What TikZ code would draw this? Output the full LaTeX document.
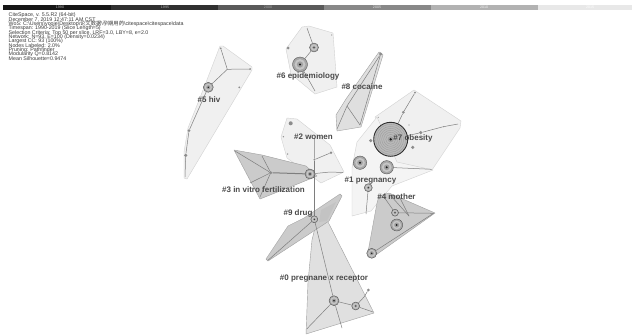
\documentclass[tikz,border=0pt]{standalone}
\usepackage{fontspec}
\setmainfont{Liberation Sans}
\newfontfamily\cjk{Noto Sans CJK SC}
\pgfdeclarelayer{bglayer}
\pgfdeclarelayer{hulllayer}
\pgfdeclarelayer{edgelayer}
\pgfsetlayers{bglayer,hulllayer,edgelayer,main}
\definecolor{hl}{HTML}{F0F0F0}
\definecolor{hld}{HTML}{D2D2D2}
\definecolor{hm}{HTML}{CBCBCB}
\definecolor{hmd}{HTML}{A0A0A0}
\definecolor{eg}{HTML}{7E7E7E}
\definecolor{lbl}{HTML}{4A4A4A}
\definecolor{txt}{HTML}{3A3A3A}
\definecolor{bA}{HTML}{161616}
\definecolor{bB}{HTML}{303030}
\definecolor{bC}{HTML}{5A5A5A}
\definecolor{bD}{HTML}{888888}
\definecolor{bE}{HTML}{B2B2B2}
\definecolor{bF}{HTML}{E8E8E8}
\newcommand\rnode[4]{%
  \node[cnode, minimum size={2*#4pt}] (#1) at (#2,#3) {};
  \fill[gray!45] (#1.center) circle ({0.72*#4pt});
  \fill[gray!75] (#1.center) circle ({0.42*#4pt});
  \fill[gray!20!black] (#1.center) circle ({0.16*#4pt});
}
\begin{document}
\begin{tikzpicture}[x=1pt,y=-1pt,
  hullL/.style={fill=hl, draw=hld, line width=0.4pt, line join=round},
  hullM/.style={fill=hm, draw=hmd, line width=0.4pt, line join=round},
  edge/.style={draw=eg, line width=0.5pt},
  sdot/.style={circle, inner sep=0pt, fill=gray!90, minimum size=#1},
  sdot/.default=2pt,
  cnode/.style={circle, inner sep=0pt, fill=gray!70, draw=gray!60!black, line width=0.35pt},
  lab/.style={font=\fontsize{8}{9}\selectfont\bfseries, text=lbl, inner sep=0pt},
  info/.style={font=\fontsize{5.3}{5.5}\selectfont, text=txt, inner sep=0pt, anchor=base west},
  barlab/.style={font=\fontsize{3.6}{4}\selectfont, inner sep=0pt}
]
\begin{pgfonlayer}{bglayer}
\fill[white] (0,0) rectangle (632,335);
\end{pgfonlayer}
\useasboundingbox (0,0) rectangle (632,335);

% ---- time bar
\fill[bA] (3,4.7) rectangle (111,10);
\fill[bB] (111,4.7) rectangle (218,10);
\fill[bC] (218,4.7) rectangle (324,10);
\fill[bD] (324,4.7) rectangle (431,10);
\fill[bE] (431,4.7) rectangle (538,10);
\fill[bF] (538,4.7) rectangle (632,10);
\node[barlab, text=gray!60] (y1990) at (60,7.4) {1990};
\node[barlab, text=gray!60] (y1995) at (165,7.4) {1995};
\node[barlab, text=gray!70] (y2000) at (268,7.4) {2000};
\node[barlab, text=gray!20] (y2005) at (377,7.4) {2005};
\node[barlab, text=gray!10] (y2010) at (484,7.4) {2010};
\node[barlab, text=white] (y2015) at (590,7.4) {2015};

% ---- info text
\foreach \t [count=\i] in {{CiteSpace, v. 5.5.R2 (64-bit)},
  {December 7, 2019 12:47:11 AM CST},
  {WoS: C:\textbackslash Users\textbackslash yooje\textbackslash Desktop\textbackslash{\cjk 论文数据}\textbackslash{\cjk 孕期用药}\textbackslash citespace\textbackslash citespace\textbackslash data},
  {Timespan: 1990-2019 (Slice Length=5)},
  {Selection Criteria: Top 50 per slice, LRF=3.0, LBY=8, e=2.0},
  {Network: N=93, E=100 (Density=0.0234)},
  {Largest CC: 93 (100\%)},
  {Nodes Labeled: 2.0\%},
  {Pruning: Pathfinder},
  {Modularity Q=0.8142},
  {Mean Silhouette=0.9474}}
  \node[info] (info\i) at (8.5,{12.4+4.33*\i}) {\t};

% ---- hulls
\begin{pgfonlayer}{hulllayer}
\draw[hullL] (220,46) -- (223,46) -- (252,67) -- (252,70) -- (187,179) -- (184,178) -- (184,152) -- (188,128) -- (205,85) -- cycle;
\draw[hullL] (302,27) -- (309,26) -- (333,33) -- (337,87) -- (315,94) -- (291,74) -- (286,49) -- cycle;
\draw[hullM, fill=gray!25] (379,52) -- (383,55) -- (361,127) -- (337,131) -- (336,115) -- (346,99) -- cycle;
\draw[hullL] (287,118) -- (297,119) -- (330,145) -- (344,172) -- (321,183) -- (287,158) -- (281,137) -- cycle;
\draw[hullL] (414,90) -- (461,121) -- (460,128) -- (432,170) -- (394,162) -- (375,117) -- cycle;
\draw[hullL, fill=gray!9] (377,117) -- (357,142) -- (352,168) -- (352,216) -- (371,211) -- (392,186) -- (433,170) -- (397,162) -- cycle;
\draw[hullM] (234,150) -- (262,155) -- (306,166) -- (317,176) -- (300,183) -- (260,199) -- (252,184) -- cycle;
\draw[hullM] (379,196) -- (389,193) -- (435,213) -- (373,257) -- (368,252) -- (377,203) -- cycle;
\draw[hullM, fill=gray!24] (318,216) -- (327,220) -- (374,313) -- (306,334) -- (308,282) -- (312,240) -- cycle;
\draw[hullM] (340,194) -- (342,196) -- (329,221) -- (268,261) -- (266,259) -- (288,226) -- (304,218) -- cycle;
\fill[gray!50, opacity=0.6] (321,210) -- (336,202) -- (327,221) -- (319,222) -- cycle;
\end{pgfonlayer}

% ---- #5 hiv
\node[sdot] (h1) at (220.7,48.3) {};
\coordinate (j1) at (227.3,69.3);
\node[sdot] (h2) at (250,69) {};
\rnode{h3}{208.3}{87.3}{5}
\node[sdot] (h4) at (239.3,87.3) {};
\node[sdot=3pt] (h5) at (189,130.7) {};
\node[sdot=3.5pt] (h6) at (185.7,155.3) {};
\coordinate (h7) at (185,177);

% ---- #6 epidemiology
\node[sdot=3pt] (e1) at (288,48) {};
\rnode{e2}{314}{47.5}{4.5}
\rnode{e3}{300}{64.5}{7.5}
\node[sdot=1.2pt] (e4) at (331.7,35) {};
\coordinate (e5) at (307,28);
\coordinate (e6) at (315,91);

% ---- #8 cocaine
\node[sdot=3.5pt] (c1) at (380.7,54) {};
\coordinate (cj) at (347,106);
\coordinate (cb1) at (337,129);
\coordinate (cb2) at (360,125);

% ---- #2 women
\node[sdot=4pt] (w1) at (290.7,123.3) {};
\node[sdot=1.5pt] (w2) at (283.3,136.7) {};
\node[sdot=1.5pt] (w3) at (287.7,154) {};
\node[sdot=2pt] (w4) at (314.3,159.7) {};
\node[sdot=2.8pt] (w5) at (331,152.7) {};
\coordinate (wt) at (314.3,138);

% ---- #3 in vitro fertilization
\rnode{v0}{310}{174}{5}
\node[sdot=3.5pt] (v1) at (270.7,172.7) {};
\coordinate (a1) at (235,151);
\coordinate (a2) at (262,156);
\coordinate (a3) at (250,183);
\coordinate (a4) at (260,197);
\coordinate (r1) at (330,172);
\coordinate (r2) at (343,172.5);

% ---- #7 obesity
\node[circle, inner sep=0pt, minimum size=34pt, fill=gray!55, draw=gray!35!black, line width=0.9pt] (o0) at (390.7,139.3) {};
\foreach \rr in {15,13,11,9,7,5}
  \draw[gray!80, line width=0.3pt] (o0.center) circle (\rr pt);
\fill[gray!75] (o0.center) circle (3pt);
\fill[gray!20!black] (o0.center) circle (1.3pt);
\node[sdot=2pt] (o1) at (415,92.7) {};
\node[sdot=3pt] (o2) at (403.3,112.3) {};
\node[sdot=1.3pt] (o3) at (409,125) {};
\node[sdot=3.5pt] (o4) at (420.7,132.7) {};
\node[sdot=1.3pt] (o5) at (443.3,126.7) {};
\coordinate (o6) at (458,124);
\node[sdot=3.5pt] (o7) at (370.7,140.7) {};
\node[sdot=3.5pt] (o8) at (412.7,147.3) {};
\node[sdot=1pt] (o9) at (378.3,117.3) {};

% ---- #1 pregnancy
\rnode{p1}{360}{162.7}{6.7}
\rnode{p2}{386.7}{167.3}{6.7}
\rnode{p3}{368.3}{187.7}{4}
\coordinate (pr) at (431.7,169.3);
\coordinate (pb) at (366,214);

% ---- #4 mother
\rnode{m1}{395}{212.7}{3.5}
\rnode{m2}{396.7}{225}{6}
\rnode{m3}{371.7}{253.3}{5}
\coordinate (mt1) at (384,197);
\coordinate (mt2) at (391,196);
\coordinate (mt3) at (400,198);
\coordinate (mx) at (409,216);
\coordinate (mr) at (433.5,213.3);

% ---- #9 drug
\rnode{d9}{314.3}{219.3}{3.5}
\coordinate (db) at (268.3,260);

% ---- #0 pregnane x receptor
\rnode{x1}{334}{300.7}{5}
\rnode{x2}{355.7}{306}{4}
\node[sdot=3pt] (x3) at (368.3,290) {};
\coordinate (xk) at (364,297);
\coordinate (xr) at (373,312);
\coordinate (xb1) at (306.7,329);
\coordinate (xb2) at (342,328);

% ---- edges
\begin{pgfonlayer}{edgelayer}
\draw[edge] (h1) -- (j1) -- (h2);
\draw[edge] (j1) -- (h3);
\draw[edge] (h3) -- (h5) -- (h6) -- (h7);
\draw[edge] (e5) -- (e2) -- (e3) -- (e6);
\draw[edge] (c1) -- (cj) -- (cb1);
\draw[edge] (cj) -- (cb2);
\draw[edge] (c1) -- (cb2);
\draw[edge] (wt) -- (w4) -- (w5);
\draw[edge] (w4) -- (d9);
\draw[edge] (a1) -- (v1) -- (a2);
\draw[edge] (v1) -- (a3);
\draw[edge] (v1) -- (a4);
\draw[edge, line width=1pt] (v1) -- (v0);
\draw[edge] (v0) -- (r1) -- (r2);
\draw[edge] (o1) -- (o2) -- (o0);
\draw[edge] (o0) -- (o4) -- (o5) -- (o6);
\draw[edge] (p2) -- (pr);
\draw[edge] (p3) -- (pb);
\draw[edge] (mt1) -- (m1) -- (mr);
\draw[edge] (mt2) -- (mx);
\draw[edge] (mt3) -- (mx);
\draw[edge] (m3) -- (mr);
\draw[edge] (d9) -- (db);
\draw[edge] (d9) -- (x1);
\draw[edge] (x1) -- (x2) -- (xk) -- (x3);
\draw[edge] (x2) -- (xr);
\draw[edge] (x1) -- (xb1);
\draw[edge] (x1) -- (xb2);
\end{pgfonlayer}

% ---- labels
\node[lab] (l5) at (209,100) {\#5 hiv};
\node[lab] (l6) at (308,76.5) {\#6 epidemiology};
\node[lab] (l8) at (362,86.5) {\#8 cocaine};
\node[lab] (l2) at (313.5,136.5) {\#2 women};
\node[lab] (l7) at (413,138.5) {\#7 obesity};
\node[lab] (l1) at (370.5,180.5) {\#1 pregnancy};
\node[lab] (l3) at (263.5,189.5) {\#3 in vitro fertilization};
\node[lab] (l4) at (396.5,197) {\#4 mother};
\node[lab] (l9) at (298,213.5) {\#9 drug};
\node[lab] (l0) at (324,279) {\#0 pregnane x receptor};
\end{tikzpicture}
\end{document}
